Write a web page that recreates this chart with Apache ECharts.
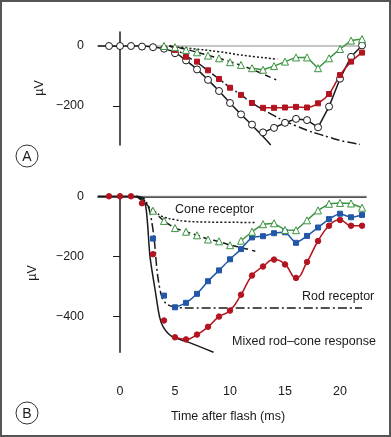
<!DOCTYPE html>
<html><head><meta charset="utf-8">
<script src="https://cdn.jsdelivr.net/npm/echarts@6/dist/echarts.min.js"></script>
<style>html,body{margin:0;padding:0;background:#fff}#c{width:391px;height:437px}</style>
</head><body><div id="c"></div>
<script>
// ---------- Panel A ----------
const timeA = [-1,0,1,2,3,4,5,6,7,8,9,10,11,12,13,14,15,16,17,18,19,20,21,22];
const mixedA = [0,0,0,-2,-4,-9,-24,-48,-78,-113,-150,-190,-228,-262,-288,-273,-256,-243,-247,-271,-202,-109,-36,2];
const mixedALineFrom = 13;
const timeRedA = [5,6,7,8,9,10,11,12,13,14,15,16,17,18,19,20,21,22];
const redA = [-13,-36,-52,-81,-110,-139,-163,-190,-206,-206,-205,-203,-205,-191,-160,-97,-52,-22];
const redALineFrom = 13;
const timeGreenA = [4,5,6,7,8,9,10,11,12,13,14,15,16,17,18,19,20,21,22];
const greenA = [0,-4,-13,-21,-32,-41,-54,-63,-74,-79,-67,-52,-38,-38,-74,-41,-10,18,23];
const greenALineFrom = 12;
const coneCurveA = [[4.5,0],[6.4,-8],[9,-19],[11,-30],[14.3,-44]];
const dashCurveA = [[4.5,0],[6,-11],[8,-31],[10,-52],[12,-78],[14.2,-113]];
const rodCurveA = [[4.5,0],[5,-8],[6,-33],[7,-55],[8,-82],[9,-110],[10,-138],[11,-163],[12,-190],[13,-212],[14,-232],[15,-251],[16,-266],[17,-281],[18,-293],[19,-304],[20,-315],[21.8,-328]];
const mixedCurveA = [[-2,0],[2,0],[3,-3],[4,-9],[5,-22],[6,-48],[7,-78],[8,-113],[9,-150],[10,-190],[11,-228],[12,-264],[13,-302],[13.7,-330]];

// ---------- Panel B ----------
const timeRedB = [-1,0,1,2,3,4,5,6,7,8,9,10,11,12,13,14,15,16,17,18,19,20,21,22];
const redB = [0,0,0,-23,-193,-414,-470,-477,-461,-435,-401,-381,-328,-264,-234,-211,-227,-272,-219,-149,-98,-79,-98,-98];
const redBLineFrom = 5;
const timeBlueB = [3,4,5,6,7,8,9,10,11,12,13,14,15,16,17,18,19,20,21,22];
const blueB = [-141,-331,-370,-355,-325,-283,-247,-210,-176,-137,-133,-123,-120,-155,-132,-104,-76,-58,-70,-62];
const blueBLineFrom = 5;
const timeGreenB = [3,4,5,6,7,8,9,10,11,12,13,14,15,16,17,18,19,20,21,22];
const greenB = [-48,-82,-106,-118,-130,-144,-150,-163,-148,-118,-93,-90,-112,-113,-80,-47,-25,-22,-24,-38];
const greenBLineFrom = 11;
const coneCurveB = [[1.5,0],[2.1,-10],[2.6,-35],[3.2,-52],[3.9,-68],[5,-78],[6,-83],[8,-86],[12.3,-87]];
const dashCurveB = [[1.5,0],[2.5,-30],[3,-48],[4,-82],[5,-105],[6,-118],[7,-130],[8,-142],[9,-151],[10,-162],[11,-171],[12.3,-183]];
const rodCurveB = [[1.5,0],[2.2,-8],[2.7,-50],[3.1,-141],[3.4,-258],[3.8,-336],[4.2,-358],[4.8,-368],[6,-372],[22,-372]];
const mixedCurveB = [[-2,0],[1,0],[1.8,-4],[2.27,-23],[2.5,-90],[2.73,-202],[3.2,-314],[3.6,-403],[3.95,-437],[4.7,-467],[6.2,-486],[8.5,-520]];

const xTicks = [0,5,10,15,20];
const yTicksA = [0,-200];
const yTicksB = [0,-200,-400];
const xMin = -2, xMax = 22.36, zeroStart = -2.91;

const RED = '#b3141f', BLUE = '#2357a8', GREEN = '#3b9440', INK = '#1a1a1a';
const FONT = 'Liberation Sans, Arial, sans-serif';

const pairs = (xs, ys) => xs.map((x, i) => [x, ys[i]]);
const before = (xs, ys, from) => pairs(xs, ys).filter(p => p[0] < from);
const after = (xs, ys, from) => pairs(xs, ys).filter(p => p[0] >= from);

function curve(g, data, type, smooth) {
  return {type:'line', xAxisIndex:g, yAxisIndex:g, data, symbol:'none', smooth: smooth===undefined?0.4:smooth,
    lineStyle:{color:INK, width:1.5, type}, silent:true, z:2, clip:false};
}
function marks(g, data, symbol, size, fill, stroke) {
  return {type:'scatter', xAxisIndex:g, yAxisIndex:g, data, symbol, symbolSize:size,
    itemStyle:{color:fill, borderColor:stroke, borderWidth:1, opacity:1}, silent:true, z:4};
}
function linked(g, data, color, symbol, size, fill, smooth) {
  return {type:'line', xAxisIndex:g, yAxisIndex:g, data, symbol, symbolSize:size, showAllSymbol:true,
    smooth: smooth||0, lineStyle:{color, width:1.5}, itemStyle:{color:fill, borderColor:color, borderWidth:1},
    silent:true, z:3};
}
function zero(g) {
  return {type:'line', xAxisIndex:g, yAxisIndex:g, data:[[zeroStart,0],[xMax,0]], symbol:'none',
    lineStyle:{color:'#8c8c8c', width:1}, clip:false, silent:true, z:1};
}
const fmt = v => v < 0 ? '\u2212' + (-v) : String(v);
function yAxis(g, min, max, ticks) {
  return {type:'value', gridIndex:g, min, max, offset:10,
    axisLine:{show:true, lineStyle:{color:INK, width:1.5}},
    axisTick:{show:true, length:7, customValues:ticks, lineStyle:{color:INK, width:1}},
    axisLabel:{show:true, customValues:ticks, formatter:fmt, margin:4, fontSize:12.5, color:INK, fontFamily:FONT},
    splitLine:{show:false}};
}

const chart = echarts.init(document.getElementById('c'));
chart.setOption({
  animation:false,
  backgroundColor:'#fff',
  grid:[
    {left:98, width:268, top:32, height:113},
    {left:98, width:268, top:194, height:158.3}
  ],
  xAxis:[
    {type:'value', gridIndex:0, min:xMin, max:xMax, show:false},
    {type:'value', gridIndex:1, min:xMin, max:xMax, offset:25,
      axisLine:{show:true, lineStyle:{color:INK, width:1.5}},
      axisTick:{show:false},
      axisLabel:{customValues:xTicks, margin:8, fontSize:12.5, color:INK, fontFamily:FONT},
      splitLine:{show:false}}
  ],
  yAxis:[ yAxis(0, -330, 46.7, yTicksA), yAxis(1, -520, 7.7, yTicksB) ],
  series:[
    zero(0),
    curve(0, coneCurveA, [2,2]),
    curve(0, dashCurveA, [6,4]),
    curve(0, rodCurveA, [9,3,2,3]),
    curve(0, mixedCurveA, 'solid'),
    marks(0, before(timeA, mixedA, mixedALineFrom), 'circle', 7, '#fff', INK),
    linked(0, after(timeA, mixedA, mixedALineFrom), INK, 'circle', 7, '#fff', 0),
    marks(0, before(timeRedA, redA, redALineFrom), 'rect', 5, RED, RED),
    linked(0, after(timeRedA, redA, redALineFrom), RED, 'rect', 5, RED, 0.3),
    marks(0, before(timeGreenA, greenA, greenALineFrom), 'triangle', 7, '#fff', GREEN),
    linked(0, after(timeGreenA, greenA, greenALineFrom), GREEN, 'triangle', 7, '#fff', 0),

    zero(1),
    curve(1, coneCurveB, [2,2]),
    curve(1, dashCurveB, [6,4]),
    curve(1, rodCurveB, [9,3,2,3], 0.3),
    curve(1, mixedCurveB, 'solid', 0.3),
    marks(1, before(timeRedB, redB, redBLineFrom), 'circle', 5.5, RED, RED),
    linked(1, after(timeRedB, redB, redBLineFrom), RED, 'circle', 5.5, RED, 0.5),
    marks(1, before(timeBlueB, blueB, blueBLineFrom), 'rect', 5, BLUE, BLUE),
    linked(1, after(timeBlueB, blueB, blueBLineFrom), BLUE, 'rect', 5, BLUE, 0.2),
    marks(1, before(timeGreenB, greenB, greenBLineFrom), 'triangle', 7, '#fff', GREEN),
    linked(1, after(timeGreenB, greenB, greenBLineFrom), GREEN, 'triangle', 7, '#fff', 0)
  ],
  graphic:[
    {type:'rect', shape:{x:1, y:1, width:389, height:435}, style:{fill:'none', stroke:'#555', lineWidth:2}, silent:true},
    {type:'circle', shape:{cx:27, cy:156, r:11}, style:{fill:'#fff', stroke:'#333', lineWidth:1}},
    {type:'text', x:27, y:157, style:{text:'A', fontSize:14, fontFamily:FONT, fill:INK, align:'center', verticalAlign:'middle'}},
    {type:'circle', shape:{cx:27, cy:413, r:11}, style:{fill:'#fff', stroke:'#333', lineWidth:1}},
    {type:'text', x:27, y:414, style:{text:'B', fontSize:14, fontFamily:FONT, fill:INK, align:'center', verticalAlign:'middle'}},
    {type:'text', x:40, y:88, rotation:Math.PI/2, style:{text:'\u00b5V', fontSize:12.5, fontFamily:FONT, fill:INK, align:'center', verticalAlign:'middle'}},
    {type:'text', x:33, y:273, rotation:Math.PI/2, style:{text:'\u00b5V', fontSize:12.5, fontFamily:FONT, fill:INK, align:'center', verticalAlign:'middle'}},
    {type:'text', x:175, y:210, style:{text:'Cone receptor', fontSize:12.5, fontFamily:FONT, fill:INK, align:'left', verticalAlign:'middle'}},
    {type:'text', x:302, y:297, style:{text:'Rod receptor', fontSize:12.5, fontFamily:FONT, fill:INK, align:'left', verticalAlign:'middle'}},
    {type:'text', x:232, y:342, style:{text:'Mixed rod\u2013cone response', fontSize:12.5, fontFamily:FONT, fill:INK, align:'left', verticalAlign:'middle'}},
    {type:'text', x:228, y:417, style:{text:'Time after flash (ms)', fontSize:12.5, fontFamily:FONT, fill:INK, align:'center', verticalAlign:'middle'}}
  ]
});
</script>
</body></html>
